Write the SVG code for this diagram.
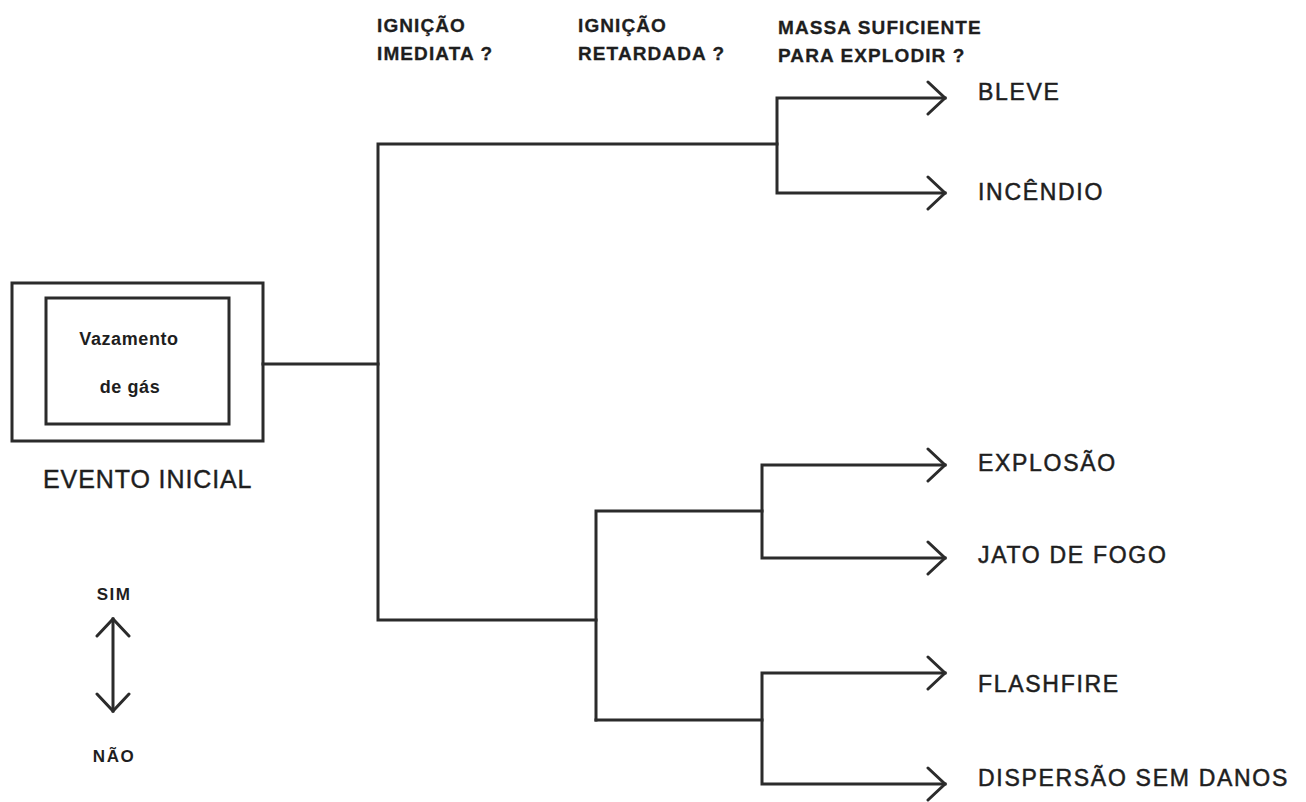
<svg xmlns="http://www.w3.org/2000/svg" width="1306" height="802" viewBox="0 0 1306 802">
<style>
.ln{fill:none;stroke:#2b2b2b;stroke-width:3;stroke-linejoin:miter;stroke-linecap:square}
.box{fill:none;stroke:#2b2b2b;stroke-width:3}
.hdr{font-family:"Liberation Sans",Arial,sans-serif;font-weight:bold;font-size:19px;letter-spacing:1.1px;fill:#1e1e1e;stroke:#1e1e1e;stroke-width:0.3px}
.out{font-family:"Liberation Sans",Arial,sans-serif;font-size:23px;letter-spacing:1.7px;fill:#1e1e1e;stroke:#1e1e1e;stroke-width:0.5px}
.ev{font-family:"Liberation Sans",Arial,sans-serif;font-size:25px;letter-spacing:0.9px;fill:#1e1e1e;stroke:#1e1e1e;stroke-width:0.4px}
.nd{font-family:"Liberation Sans",Arial,sans-serif;font-weight:bold;font-size:18px;letter-spacing:0.6px;fill:#1e1e1e;text-anchor:middle}
.key{font-family:"Liberation Sans",Arial,sans-serif;font-weight:bold;font-size:17px;letter-spacing:1.5px;fill:#1e1e1e;text-anchor:middle}
</style>
<defs>
<marker id="ah" markerUnits="userSpaceOnUse" markerWidth="26" markerHeight="38" refX="20" refY="18" orient="auto-start-reverse" viewBox="0 0 26 38">
<path d="M3,2 L20,18 L3,34" fill="none" stroke="#2b2b2b" stroke-width="3" stroke-linecap="round"/>
</marker>
</defs>
<rect width="1306" height="802" fill="#ffffff"/>

<g id="headers">
<text class="hdr" x="377" y="32">IGNIÇÃO</text>
<text class="hdr" x="377" y="60">IMEDIATA ?</text>
<text class="hdr" x="578" y="32">IGNIÇÃO</text>
<text class="hdr" x="578" y="60">RETARDADA ?</text>
<text class="hdr" x="778" y="34">MASSA SUFICIENTE</text>
<text class="hdr" x="778" y="62">PARA EXPLODIR ?</text>
</g>

<g id="evento-inicial">
<rect class="box" x="12" y="283" width="251" height="158"/>
<rect class="box" x="46" y="298" width="183" height="126"/>
<text class="nd" x="129" y="345">Vazamento</text>
<text class="nd" x="130" y="393">de gás</text>
<text class="ev" x="43" y="488">EVENTO INICIAL</text>
</g>

<g id="connectors">
<path class="ln" d="M263,364 H378"/>
<path class="ln" d="M777,144 H378 V620 H596"/>
<path class="ln" d="M945,98 H777 V193 H945" marker-start="url(#ah)" marker-end="url(#ah)"/>
<path class="ln" d="M596,720 V511 H762"/>
<path class="ln" d="M945,465 H762 V558 H945" marker-start="url(#ah)" marker-end="url(#ah)"/>
<path class="ln" d="M596,720 H762"/>
<path class="ln" d="M945,673 H762 V784 H945" marker-start="url(#ah)" marker-end="url(#ah)"/>
</g>

<g id="bleve"><text class="out" x="978" y="100">BLEVE</text></g>
<g id="incendio"><text class="out" x="978" y="200">INCÊNDIO</text></g>
<g id="explosao"><text class="out" x="978" y="471">EXPLOSÃO</text></g>
<g id="jato-de-fogo"><text class="out" x="978" y="563">JATO DE FOGO</text></g>
<g id="flashfire"><text class="out" x="978" y="692">FLASHFIRE</text></g>
<g id="dispersao"><text class="out" x="978" y="786">DISPERSÃO SEM DANOS</text></g>

<g id="legenda">
<text class="key" x="114" y="600">SIM</text>
<path class="ln" d="M113,619 V711" marker-start="url(#ah)" marker-end="url(#ah)"/>
<text class="key" x="114" y="762">NÃO</text>
</g>
</svg>
